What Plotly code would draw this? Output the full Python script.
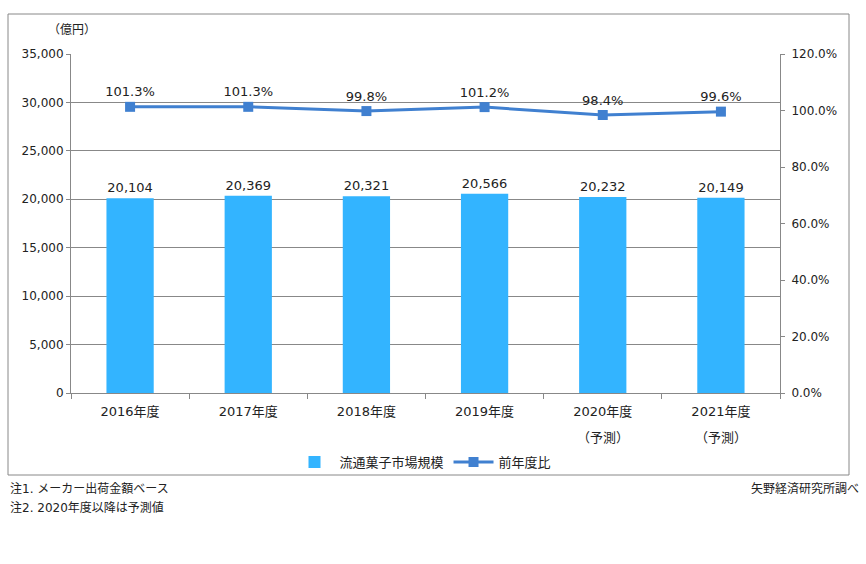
import plotly.graph_objects as go

categories = ["2016年度", "2017年度", "2018年度", "2019年度", "2020年度", "2021年度"]
forecast_note = ["", "", "", "", "（予測）", "（予測）"]
market_size = [20104, 20369, 20321, 20566, 20232, 20149]
yoy_ratio = [101.3, 101.3, 99.8, 101.2, 98.4, 99.6]

W, H = 866, 564
L, R, T, B = 71, 780, 54, 393

def px(x):
    return (x - L) / (R - L)

def py(y):
    return (B - y) / (B - T)

FONT = "DejaVu Sans, Noto Sans CJK JP"
BAR_COLOR = "#33B4FF"
LINE_COLOR = "#4080D0"
GRID = "#888888"

fig = go.Figure()
fig.add_trace(go.Bar(
    x=categories, y=market_size, name="流通菓子市場規模",
    marker=dict(color=BAR_COLOR, line=dict(width=0)),
    width=0.4,
    text=[f"{v:,}" for v in market_size], textposition="outside",
    textfont=dict(size=13, color="#222222"), cliponaxis=False,
))
fig.add_trace(go.Scatter(
    x=categories, y=[v / 100 for v in yoy_ratio], name="前年度比", yaxis="y2",
    mode="lines+markers+text",
    line=dict(color=LINE_COLOR, width=3),
    marker=dict(symbol="square", size=10, color=LINE_COLOR),
    text=[f"{v:.1f}%" for v in yoy_ratio], textposition="top center",
    textfont=dict(size=13, color="#222222"), cliponaxis=False,
))

fig.update_layout(
    width=W, height=H,
    margin=dict(l=L, r=W - R, t=T, b=H - B),
    paper_bgcolor="white", plot_bgcolor="white",
    font=dict(family=FONT, size=12, color="#222222"),
    showlegend=True,
    legend=dict(orientation="h", x=px(423), xanchor="center", y=py(462), yanchor="middle",
                font=dict(size=13), itemwidth=40, bgcolor="rgba(0,0,0,0)"),
    xaxis=dict(showline=True, linecolor=GRID, ticks="outside", tickcolor=GRID, ticklen=5,
               tickson="boundaries", tickfont=dict(size=13), showgrid=False,
               ticklabelstandoff=6),
    yaxis=dict(range=[0, 35000], dtick=5000, tickformat=",", showgrid=True, gridcolor=GRID,
               showline=True, linecolor=GRID, ticks="outside", tickcolor=GRID, ticklen=4,
               tickfont=dict(size=12), zeroline=False),
    yaxis2=dict(range=[0, 1.2], dtick=0.2, tickformat=".1%", overlaying="y", side="right",
                showgrid=False, showline=True, linecolor=GRID, ticks="outside", tickcolor=GRID,
                ticklen=4, tickfont=dict(size=12), zeroline=False, ticklabelstandoff=4),
)

for cat, note in zip(categories, forecast_note):
    if note:
        fig.add_annotation(text=note, x=cat, xref="x", yref="paper", y=py(437),
                           yanchor="middle", showarrow=False, font=dict(size=13))

fig.add_shape(type="rect", xref="paper", yref="paper",
              x0=px(8), x1=px(849), y0=py(475), y1=py(14),
              line=dict(color="#888888", width=1), layer="below")

fig.add_annotation(text="（億円）", xref="paper", yref="paper", x=px(46), y=py(30),
                   xanchor="left", yanchor="middle", showarrow=False, font=dict(size=12))
fig.add_annotation(text="注1. メーカー出荷金額ベース", xref="paper", yref="paper", x=px(8), y=py(489),
                   xanchor="left", yanchor="middle", showarrow=False, font=dict(size=12))
fig.add_annotation(text="注2. 2020年度以降は予測値", xref="paper", yref="paper", x=px(8), y=py(507),
                   xanchor="left", yanchor="middle", showarrow=False, font=dict(size=12))
fig.add_annotation(text="矢野経済研究所調べ", xref="paper", yref="paper", x=px(861), y=py(489),
                   xanchor="right", yanchor="middle", showarrow=False, font=dict(size=12))

fig.write_html("out.html")
